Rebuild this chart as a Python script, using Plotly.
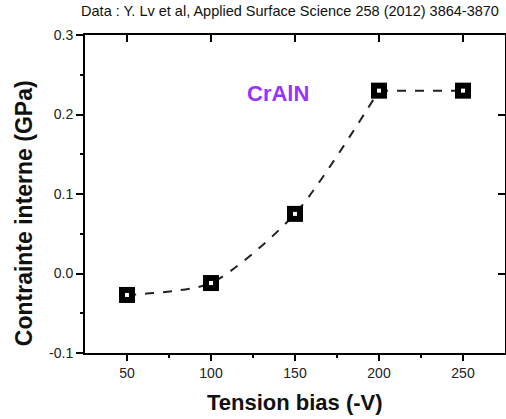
import plotly.graph_objects as go

bias = [50, 100, 150, 200, 250]
stress = [-0.027, -0.012, 0.075, 0.23, 0.23]

title_text = "Data : Y. Lv et al, Applied Surface Science 258 (2012) 3864-3870"
x_title = "Tension bias (-V)"
y_title = "Contrainte interne (GPa)"
label_text = "CrAlN"

fig = go.Figure()
fig.add_trace(go.Scatter(x=bias[:4], y=stress[:4], mode="lines",
                         line=dict(color="#222", width=2, dash="dash", shape="spline", smoothing=0.7),
                         showlegend=False, hoverinfo="skip"))
fig.add_trace(go.Scatter(x=bias[3:], y=stress[3:], mode="lines",
                         line=dict(color="#222", width=2, dash="dash"),
                         showlegend=False, hoverinfo="skip"))
fig.add_trace(go.Scatter(x=bias, y=stress, mode="markers",
                         marker=dict(symbol="square", size=16, color="black"),
                         showlegend=False))
fig.add_trace(go.Scatter(x=bias, y=stress, mode="markers",
                         marker=dict(symbol="square", size=4, color="white"),
                         showlegend=False))
fig.add_trace(go.Scatter(x=bias, y=stress, xaxis="x2", yaxis="y2", mode="lines",
                         line=dict(color="rgba(0,0,0,0)"), showlegend=False, hoverinfo="skip"))

font_tick = dict(family="Liberation Sans, Arial", size=14, color="#222")
tick_common = dict(tickwidth=1.5, tickcolor="black", showline=True, linecolor="black",
                   linewidth=2, showgrid=False, zeroline=False, automargin=False)
fig.update_layout(
    width=506, height=419,
    margin=dict(l=85, r=1, t=35, b=66, autoexpand=False),
    paper_bgcolor="white", plot_bgcolor="white",
    title=dict(text=title_text, x=290 / 506, xref="container", xanchor="center", y=1 - 11 / 419, yref="container",
               yanchor="middle",
               font=dict(family="Liberation Sans, Arial", size=14.5, color="#111")),
    xaxis=dict(range=[25, 275], tickvals=[50, 100, 150, 200, 250], ticks="outside", mirror=True,
               ticklen=6, tickfont=font_tick, **tick_common,
               minor=dict(tickvals=[75, 125, 175, 225], ticks="outside", ticklen=3, tickwidth=1.5, tickcolor="black")),
    yaxis=dict(range=[-0.1, 0.3], tickvals=[-0.1, 0.0, 0.1, 0.2, 0.3], ticktext=["-0.1", "0.0", "0.1", "0.2", "0.3"],
               ticks="outside", ticklen=7, tickfont=font_tick, mirror=True, **tick_common,
               minor=dict(tickvals=[-0.05, 0.05, 0.15, 0.25], ticks="outside", ticklen=3, tickwidth=1.5, tickcolor="black")),
    xaxis2=dict(range=[25, 275], overlaying="x", anchor="y2", side="top", tickvals=[50, 100, 150, 200, 250],
                ticks="inside", ticklen=7, showticklabels=False, tickwidth=1.5, tickcolor="black",
                showline=False, showgrid=False, zeroline=False),
    yaxis2=dict(range=[-0.1, 0.3], overlaying="y", anchor="x2", side="right", tickvals=[-0.1, 0.0, 0.1, 0.2, 0.3],
                ticks="inside", ticklen=7, showticklabels=False, tickwidth=1.5, tickcolor="black",
                showline=False, showgrid=False, zeroline=False),
    annotations=[
        dict(x=140, y=0.226, xref="x", yref="y", text="<b>" + label_text + "</b>", showarrow=False,
             font=dict(family="Liberation Sans, Arial", size=22, color="#9933ff")),
        dict(x=0.5, y=-0.155, xref="paper", yref="paper", yanchor="middle", text="<b>" + x_title + "</b>",
             showarrow=False, font=dict(family="Liberation Sans, Arial", size=22, color="#111")),
        dict(x=-0.145, y=0.44, xref="paper", yref="paper", xanchor="center", yanchor="middle", textangle=-90,
             text="<b>" + y_title + "</b>", showarrow=False,
             font=dict(family="Liberation Sans, Arial", size=23, color="#111")),
    ],
)

fig.write_html("out.html", config={"displayModeBar": False},
               post_script="document.body.style.margin='0';document.body.style.overflow='hidden';")
